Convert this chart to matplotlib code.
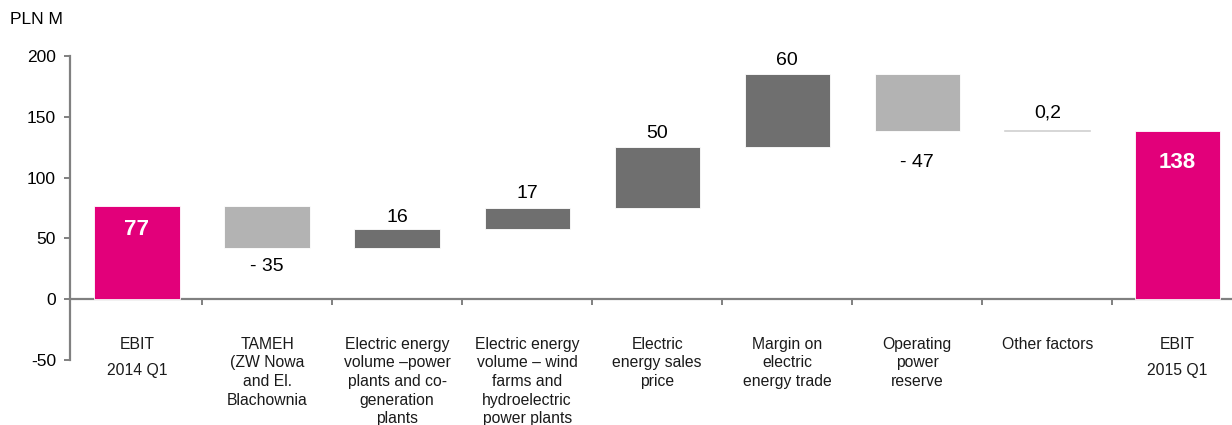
import matplotlib
matplotlib.use('Agg')
from matplotlib import pyplot as plt
import numpy as np

plt.rcParams['font.family'] = ['Liberation Sans', 'DejaVu Sans']
plt.rcParams['axes.unicode_minus'] = False

categories = ['EBIT\n2014 Q1',
              'TAMEH\n(ZW Nowa\nand El.\nBlachownia',
              'Electric energy\nvolume \u2013power\nplants and co-\ngeneration\nplants',
              'Electric energy\nvolume \u2013 wind\nfarms and\nhydroelectric\npower plants',
              'Electric\nenergy sales\nprice',
              'Margin on\nelectric\nenergy trade',
              'Operating\npower\nreserve',
              'Other factors',
              'EBIT\n2015 Q1']
values = [77, -35, 16, 17, 50, 60, -47, 0.2, 138]
labels = ['77', '- 35', '16', '17', '50', '60', '- 47', '0,2', '138']
is_total = [True, False, False, False, False, False, False, False, True]

# label gap from bar edge, points
label_pad = [0, 7, 2, 4, 4, 4, 16, 7, 0]

c_total = '#E2007A'
c_up = '#6F6F6F'
c_down = '#B3B3B3'
c_axis = '#808080'

fig = plt.figure(figsize=(12.32, 4.25), dpi=100)
ax = fig.add_axes([70 / 1232, 1 - 360 / 425, 1 - 70 / 1232, 304 / 425])

x = np.arange(len(values))
bottoms = []
heights = []
run = 0.0
for v, t in zip(values, is_total):
    if t:
        bottoms.append(0)
        heights.append(v)
        run = v
    else:
        bottoms.append(run if v >= 0 else run + v)
        heights.append(abs(v))
        run += v

colors = []
for v, t in zip(values, is_total):
    if t:
        colors.append(c_total)
    elif abs(v) < 1:
        colors.append('#D0D0D0')
    elif v > 0:
        colors.append(c_up)
    else:
        colors.append(c_down)

w = 0.655
for i in range(len(values)):
    if abs(heights[i]) < 1:
        ax.plot([x[i] - w / 2, x[i] + w / 2], [bottoms[i], bottoms[i]],
                color=colors[i], lw=1.2, zorder=3)
    else:
        ax.bar(x[i], heights[i], bottom=bottoms[i], width=w, color=colors[i],
               edgecolor='white', linewidth=0.6, zorder=3)

# value labels
for i in range(len(values)):
    if is_total[i]:
        ax.text(x[i], heights[i] - 12 - heights[i] * 0.1, labels[i], ha='center',
                va='center', color='white', fontsize=16, fontweight='bold', zorder=4)
    elif values[i] >= 0:
        ax.annotate(labels[i], (x[i], bottoms[i] + heights[i]),
                    xytext=(0, label_pad[i]), textcoords='offset points',
                    ha='center', va='bottom', fontsize=14, color='black')
    else:
        ax.annotate(labels[i], (x[i], bottoms[i]), xytext=(0, -label_pad[i]),
                    textcoords='offset points', ha='center', va='top',
                    fontsize=14, color='black')

# category labels
for i, c in enumerate(categories):
    ls = 1.9 if is_total[i] else 1.3
    ax.text(x[i], -31, c, ha='center', va='top', fontsize=11.3, linespacing=ls,
            color='#1a1a1a')

ax.set_xlim(-0.515, 8.42)
ax.set_ylim(-50, 200)
ax.set_yticks([-50, 0, 50, 100, 150, 200])
ax.set_xticks(x[:-1] + 0.5)
ax.set_xticklabels([])

for s in ['top', 'right']:
    ax.spines[s].set_visible(False)
ax.spines['bottom'].set_position(('data', 0))
ax.spines['bottom'].set_color(c_axis)
ax.spines['left'].set_color(c_axis)
ax.spines['bottom'].set_linewidth(1.6)
ax.spines['left'].set_linewidth(1.6)
ax.tick_params(axis='y', direction='out', length=4, width=1.4, color=c_axis,
               labelsize=12.5, pad=6)
ax.tick_params(axis='x', direction='out', length=4, width=1.4, color=c_axis)

fig.text(10 / 1232, 1 - 20 / 425, 'PLN M', ha='left', va='center', fontsize=12.5)

fig.savefig('out.png', dpi=100)
